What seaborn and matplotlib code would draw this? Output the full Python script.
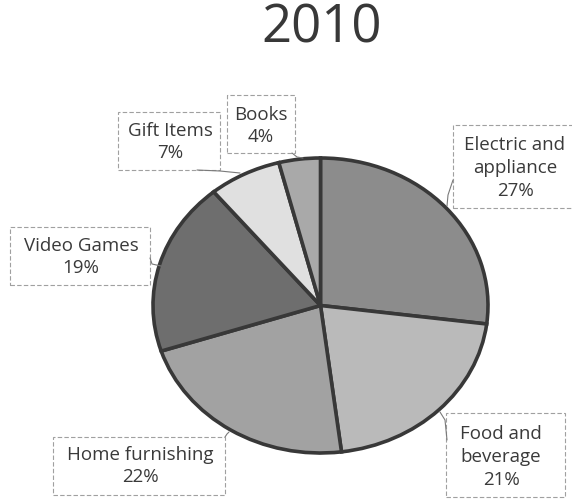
import matplotlib
matplotlib.use("Agg")
import matplotlib.pyplot as plt
import seaborn as sns

# Datos del gráfico
categories = ["Electric and\nappliance", "Food and\nbeverage", "Home furnishing",
              "Video Games", "Gift Items", "Books"]
shares = [27, 21, 22, 19, 7, 4]
colors = ["#8c8c8c", "#bababa", "#a2a2a2", "#6e6e6e", "#e0e0e0", "#a9a9a9"]
title = "2010"

sns.set_style("white")
plt.rcParams["font.family"] = ["Open Sans", "DejaVu Sans"]

W, H = 572, 499
fig = plt.figure(figsize=(W / 100, H / 100), dpi=100)

# pie (elipse) ocupa la caja x 153-488, y 158-453 (pixeles)
left, right, top, bottom = 153, 488, 158, 453
ax = fig.add_axes([left / W, 1 - bottom / H, (right - left) / W, (bottom - top) / H])
ax.pie(shares, colors=colors, startangle=90, counterclock=False,
       wedgeprops=dict(edgecolor="#383838", linewidth=2.6))
ax.set_aspect("auto")
ax.set_xlim(-1.0, 1.0)
ax.set_ylim(-1.0, 1.0)
ax.axis("off")

fig.text(322 / W, 1 - 29 / H, title, ha="center", va="center",
         fontsize=38, color="#383838")

# etiquetas: centro (px), caja (x0, y0, x1, y1), linea guia
labels = [
    ((515, 168), (453, 125, 574, 208), [(453, 180), (448, 195), (447, 206)]),
    ((501, 457), (446, 413, 565, 497), [(440, 412), (445, 420), (447, 440)]),
    ((140, 466), (53, 437, 225, 495), [(225, 437), (227, 434), (229, 432)]),
    ((81, 257), (10, 227, 150, 285), [(150, 258), (152, 264), (161, 266)]),
    ((170, 142), (118, 112, 220, 170), [(197, 170), (220, 171), (240, 173)]),
    ((261, 126), (227, 95, 295, 153), [(292, 153), (297, 157), (303, 158)]),
]
label_texts = [f"{c}\n{s}%" for c, s in zip(categories, shares)]

for txt, ((cx, cy), (x0, y0, x1, y1), guide) in zip(label_texts, labels):
    fig.text(cx / W, 1 - cy / H, txt, ha="center", va="center",
             fontsize=13.5, color="#3a3a3a", linespacing=1.35)
    rect = plt.Rectangle((x0 / W, 1 - y1 / H), (x1 - x0) / W, (y1 - y0) / H,
                         transform=fig.transFigure, fill=False,
                         edgecolor="#a0a0a0", linewidth=0.8, linestyle=(0, (4, 2)))
    fig.add_artist(rect)
    gx = [p[0] / W for p in guide]
    gy = [1 - p[1] / H for p in guide]
    fig.add_artist(plt.Line2D(gx, gy, transform=fig.transFigure,
                              color="#7a7a7a", linewidth=0.8))

fig.savefig("out.png", dpi=100, facecolor="white")
